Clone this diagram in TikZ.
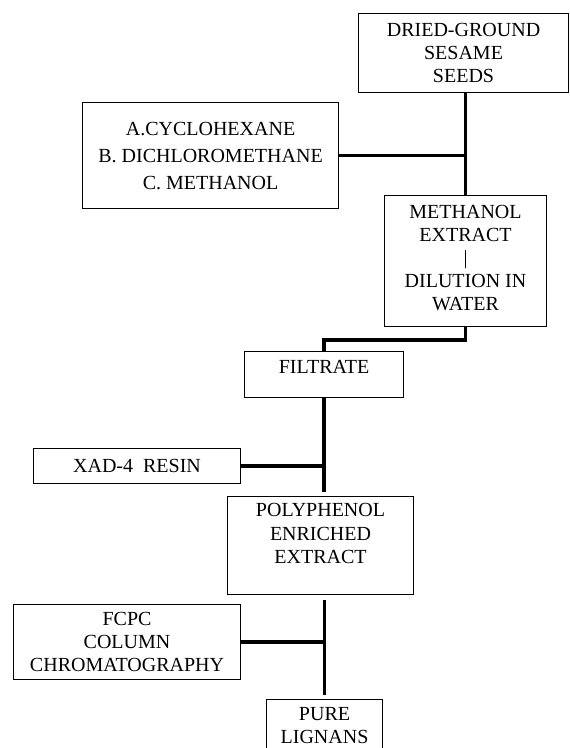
\documentclass[tikz,border=0pt]{standalone}
\usepackage{fontspec}
\setmainfont{Liberation Serif}

\tikzset{
  stage/.style={draw, line width=1.1pt, inner xsep=0pt, inner ysep=0pt,
    align=center, anchor=north west, font=\fontsize{20}{23}\selectfont},
  link/.style={line width=3.5pt}
}

\begin{document}
\begin{tikzpicture}[x=1pt, y=-1pt]
  \useasboundingbox (0,0) rectangle (570,748);
  \clip (0,0) rectangle (570,748);
  % extraction
  \node[stage, minimum width=210pt, minimum height=79pt] (seeds) at (358,13) {DRIED-GROUND\\SESAME\\SEEDS};
  \node[stage, minimum width=256pt, minimum height=106pt, font=\fontsize{20}{27}\selectfont] (solv) at (82,102) {A.CYCLOHEXANE\\B. DICHLOROMETHANE\\C. METHANOL};
  \node[stage, minimum width=162pt, inner ysep=10pt, text depth=5.7pt] (meth) at (384,195) {METHANOL\\EXTRACT\\|\\DILUTION IN\\WATER};
  \node[stage, minimum width=159pt, inner ysep=9pt, text depth=14.7pt] (filt) at (244,351) {FILTRATE};
  % resin step
  \node[stage, minimum width=207pt, minimum height=35pt] (xad) at (33,448) {XAD-4\ \ RESIN};
  \node[stage, minimum width=186pt, inner ysep=7pt, text depth=23.7pt, font=\fontsize{20}{23.5}\selectfont] (poly) at (227,496) {POLYPHENOL\\ENRICHED\\EXTRACT};
  % fcpc step
  \node[stage, minimum width=227pt, minimum height=75pt] (fcpc) at (13,604) {FCPC\\COLUMN\\CHROMATOGRAPHY};
  \node[stage, minimum width=116pt, inner ysep=8pt, text depth=22pt] (lig) at (266,699) {PURE\\LIGNANS};

  \draw[link] (meth.north |- seeds.south) -- (meth.north);
  \draw[link] (solv.east) -- (solv.east -| meth.north);
  \draw[link] (meth.south) -- ++(0,13) -| (filt.north);
  \draw[link, shorten >=4pt] (filt.south) -- (filt.south |- poly.north);
  \draw[link] (xad.east) -- (xad.east -| filt.south);
  \draw[link, shorten <=5pt, shorten >=4pt] (lig.north |- poly.south) -- (lig.north);
  \draw[link] (fcpc.east) -- (fcpc.east -| lig.north);
\end{tikzpicture}
\end{document}
